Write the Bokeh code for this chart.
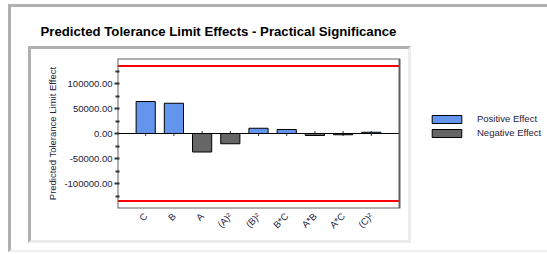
import math
from bokeh.plotting import figure
from bokeh.models import (ColumnDataSource, Range1d, FixedTicker, NumeralTickFormatter,
                          Legend, LegendItem, InlineStyleSheet)
from bokeh.embed import file_html
from bokeh.resources import INLINE

# ---- data ----
categories = ["C", "B", "A", "(A)²", "(B)²", "B*C", "A*B", "A*C", "(C)²"]
effects = [64000, 60500, -37000, -20500, 10500, 8000, -4000, -2500, 2500]
upper_limit = 135000
lower_limit = -135000
y_min, y_max = -150000, 150000
y_ticks = [-100000, -50000, 0, 50000, 100000]
y_minor_ticks = [-125000, -75000, -25000, 25000, 75000, 125000]
title_text = "Predicted Tolerance Limit Effects - Practical Significance"
y_label = "Predicted Tolerance Limit Effect"
legend_labels = ["Positive Effect", "Negative Effect"]

n = len(categories)
xs = list(range(1, n + 1))
x_lo, x_hi = 0, n + 1
pos = ColumnDataSource(dict(x=[x for x, v in zip(xs, effects) if v >= 0],
                            top=[v for v in effects if v >= 0]))
neg = ColumnDataSource(dict(x=[x for x, v in zip(xs, effects) if v < 0],
                            top=[v for v in effects if v < 0]))
zero_src = ColumnDataSource(dict(x=xs, y=[0] * n))

TEXT = "#22223a"
W, H = 547, 254
FL, FR_PLOT, FT, FB = 117, 399, 58, 208   # plot box in pixels
x_view_end = x_hi * (W - FL) / (FR_PLOT - FL)   # frame extended to hold the legend

p = figure(width=W, height=H, output_backend="svg", toolbar_location=None,
           x_range=Range1d(x_lo, x_view_end), y_range=Range1d(y_min, y_max),
           min_border_left=FL, min_border_right=0, min_border_top=FT,
           min_border_bottom=H - FB, title=title_text)
p.xgrid.visible = False
p.ygrid.visible = False
p.outline_line_color = None
p.background_fill_color = None
p.border_fill_color = None

p.title.text_font = "Liberation Sans"
p.title.text_font_style = "bold"
p.title.text_font_size = "13.2px"
p.title.text_color = "black"
p.title.align = "left"
p.title.offset = 40 - FL
p.title.standoff = 40

# zero line + category ticks on it
p.segment(x0=[x_lo], x1=[x_hi], y0=[0], y1=[0], line_color="black", line_width=1)
p.scatter("x", "y", source=zero_src, marker="dash", angle=math.pi / 2, size=5,
          line_color="#333333", line_width=1)

r_pos = p.vbar(x="x", top="top", bottom=0, width=0.68, source=pos,
               fill_color="#6495ED", line_color="black", line_width=1)
r_neg = p.vbar(x="x", top="top", bottom=0, width=0.68, source=neg,
               fill_color="#666666", line_color="black", line_width=1)

# tolerance limits
p.segment(x0=[x_lo, x_lo], x1=[x_hi, x_hi], y0=[upper_limit, lower_limit],
          y1=[upper_limit, lower_limit], line_color="#ff0000", line_width=2)

# plot box
p.quad(left=[x_lo], right=[x_hi], bottom=[y_min], top=[y_max], fill_color=None,
       line_color="#606060", line_width=2)

# y axis
ya = p.yaxis[0]
ya.ticker = FixedTicker(ticks=y_ticks, minor_ticks=y_minor_ticks)
ya.formatter = NumeralTickFormatter(format="0.00")
ya.axis_label = y_label
ya.axis_label_text_font = "Liberation Sans"
ya.axis_label_text_font_style = "normal"
ya.axis_label_text_font_size = "9.5px"
ya.axis_label_text_color = TEXT
ya.axis_label_standoff = 3
ya.major_label_text_font = "Liberation Sans"
ya.major_label_text_font_size = "9.5px"
ya.major_label_text_color = TEXT
ya.major_label_standoff = 2
ya.axis_line_color = None
ya.major_tick_in = 2
ya.major_tick_out = 3
ya.minor_tick_in = 2
ya.minor_tick_out = 2
ya.major_tick_line_color = "#333333"
ya.minor_tick_line_color = "#333333"
ya.major_tick_line_width = 2
ya.minor_tick_line_width = 2

# x axis
xa = p.xaxis[0]
xa.ticker = FixedTicker(ticks=xs)
xa.major_label_overrides = {x: c for x, c in zip(xs, categories)}
xa.major_label_orientation = math.pi / 4
xa.major_label_text_font = "Liberation Sans"
xa.major_label_text_font_size = "9.5px"
xa.major_label_text_color = TEXT
xa.major_label_standoff = 0
xa.axis_line_color = None
xa.major_tick_line_color = None
xa.minor_tick_line_color = None

# legend
legend = Legend(items=[LegendItem(label=legend_labels[0], renderers=[r_pos]),
                       LegendItem(label=legend_labels[1], renderers=[r_neg])],
                location=(428 - FL, FB - 138), glyph_width=37, glyph_height=10,
                label_height=10, spacing=3, padding=0, margin=0, label_standoff=12,
                label_text_font="Liberation Sans", label_text_font_size="9.5px",
                label_text_color=TEXT,
                border_line_color=None, background_fill_alpha=0)
p.add_layout(legend, "center")

# decorative panel frames drawn with CSS pseudo-elements
css = """
:host { position: relative; overflow: visible; }
:host::before {
  content: ""; position: absolute; left: 8px; top: 4px; width: 539px; height: 248px;
  border-left: 3px solid #b0b0b0; border-top: 3px solid #b0b0b0;
  border-bottom: 2px solid #f0f0f0;
  box-sizing: border-box; pointer-events: none; z-index: 5;
}
:host::after {
  content: ""; position: absolute; left: 28px; top: 46px; width: 383px; height: 197px;
  border-left: 3px solid #b0b0b0; border-top: 3px solid #b0b0b0;
  border-right: 3px solid #ececec; border-bottom: 3px solid #ececec;
  box-sizing: border-box; pointer-events: none; z-index: 5;
}
"""
p.stylesheets = [InlineStyleSheet(css=css)]

open("out.html", "w").write(file_html(p, INLINE))
